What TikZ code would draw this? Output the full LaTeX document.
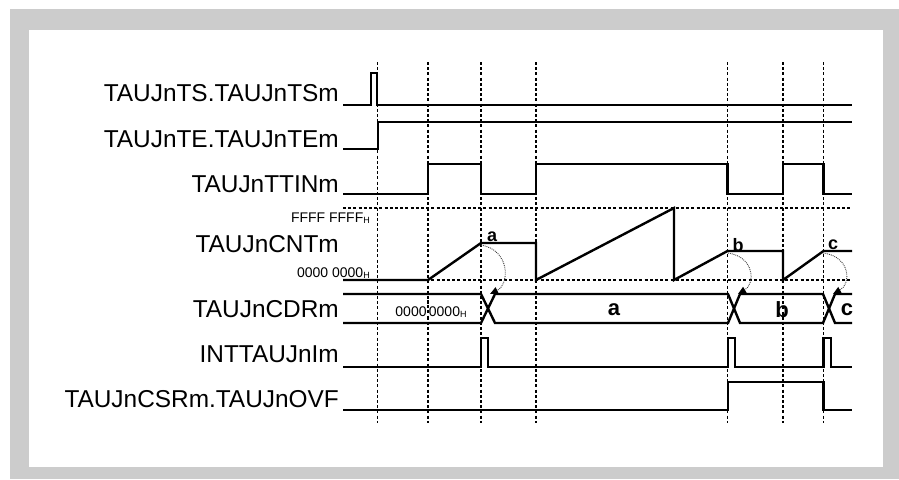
\documentclass[tikz,border=0pt]{standalone}
\usepackage{fontspec}
\setmainfont{Liberation Sans}
\usetikzlibrary{arrows.meta}
\definecolor{framegray}{HTML}{CCCCCC}
\begin{document}
\begin{tikzpicture}[x=1pt,y=-1pt,
  sig/.style={line width=2.4pt, line join=miter},
  gridline/.style={line width=1.1pt, dash pattern=on 3pt off 2.2pt},
  lbl/.style={anchor=base east, inner sep=0pt, font=\fontsize{24.4}{27}\selectfont},
  smalllbl/.style={inner sep=0pt, font=\fontsize{14}{16}\selectfont},
  capture/.style={line width=0.9pt, densely dotted, black!75, -{Triangle[length=8pt,width=7pt,fill=black,color=black]}},
  valbold/.style={font=\fontsize{18}{20}\selectfont\bfseries, inner sep=0pt},
  busbold/.style={font=\fontsize{22}{24}\selectfont\bfseries, inner sep=0pt}]
\newcommand{\hsub}{\raisebox{-1pt}{\fontsize{9}{9}\selectfont H}}
\useasboundingbox (0,0) rectangle (899,479);
\fill[framegray] (10,9) rectangle (899,479);
\fill[white] (29,30) rectangle (883,467);

% vertical timing guides
\foreach \x in {377.5,428,481,536,727.5,783,823.5}
  \draw[gridline] (\x,62) -- (\x,423);
% counter range guides
\draw[gridline] (343,208) -- (852,208);
\draw[gridline] (343,280) -- (852,280);

% labels
\node[lbl] (lts)  at (339,101) {TAUJnTS.TAUJnTSm};
\node[lbl] (lte)  at (339,147) {TAUJnTE.TAUJnTEm};
\node[lbl] (ltt)  at (339,192) {TAUJnTTINm};
\node[lbl] (lcnt) at (339,252) {TAUJnCNTm};
\node[lbl] (lcdr) at (339,317) {TAUJnCDRm};
\node[lbl] (lint) at (339,362) {INTTAUJnIm};
\node[lbl] (lovf) at (339,407) {TAUJnCSRm.TAUJnOVF};
\node[smalllbl, anchor=base east] (lffff) at (370,222) {FFFF FFFF\hsub};
\node[smalllbl, anchor=base east] (lzero) at (370,277) {0000 0000\hsub};

% TS
\draw[sig] (343,105) -- (371,105) -- (371,73) -- (377,73) -- (377,105) -- (852,105);
% TE
\draw[sig] (343,149) -- (378,149) -- (378,122) -- (852,122);
% TTIN
\draw[sig] (343,194) -- (428,194) -- (428,164) -- (481,164) -- (481,194) -- (536,194)
  -- (536,164) -- (727.5,164) -- (727.5,194) -- (783,194) -- (783,164) -- (823.5,164)
  -- (823.5,194) -- (852,194);
% CNT
\draw[sig] (343,280) -- (428,280) -- (481,243) -- (536,243) -- (536,280) -- (674,208)
  -- (674,280) -- (727.5,251) -- (783,251) -- (783,280) -- (823.5,251) -- (852,251);
\node[valbold] (va) at (492,237) {a};
\node[valbold] (vb) at (738,245) {b};
\node[valbold] (vc) at (833,245) {c};

% CDR bus
\draw[sig] (343,294) -- (481,294) -- (495,323) -- (728,323) -- (740,294) -- (823,294) -- (835,323) -- (852,323);
\draw[sig] (343,323) -- (481,323) -- (495,294) -- (728,294) -- (740,323) -- (823,323) -- (835,294) -- (852,294);
\node[smalllbl, fill=white, inner xsep=0pt, inner ysep=1pt, anchor=base] (cdr0) at (431,316) {0000\,0000\hsub};
\draw[gridline] (428,300) -- (428,318);
\node[busbold] (ba) at (614,310) {a};
\node[busbold] (bb) at (782,310) {b};
\node[busbold] (bc) at (847,310) {c};

% capture arrows
\coordinate (pa) at (481,245); \coordinate (xa) at (490,294);
\coordinate (pb) at (728,253); \coordinate (xb) at (738,294);
\coordinate (pc) at (823.5,253); \coordinate (xc) at (833,294);
\draw[capture] (pa) .. controls (510,250) and (510,284) .. (xa);
\draw[capture] (pb) .. controls (755,257) and (755,284) .. (xb);
\draw[capture] (pc) .. controls (851,257) and (851,284) .. (xc);

% INT
\draw[sig] (343,367) -- (481,367) -- (481,338) -- (488,338) -- (488,367) -- (728,367)
  -- (728,338) -- (735,338) -- (735,367) -- (823.5,367) -- (823.5,338) -- (831,338)
  -- (831,367) -- (852,367);
% OVF
\draw[sig] (343,410) -- (728,410) -- (728,382) -- (823.5,382) -- (823.5,410) -- (852,410);
\end{tikzpicture}
\end{document}
